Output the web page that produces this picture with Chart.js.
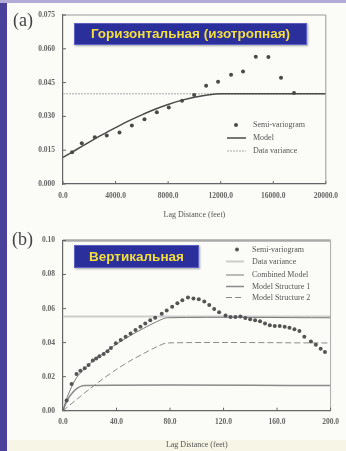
<!DOCTYPE html>
<html>
<head>
<meta charset="utf-8">
<script src="https://cdn.jsdelivr.net/npm/chart.js@4.4.0/dist/chart.umd.min.js"></script>
<style>
  html, body { margin: 0; padding: 0; }
  body { width: 346px; height: 451px; position: relative; overflow: hidden; background: #fbfbf7; }
  .borde-izq { position: absolute; left: 0; top: 0; width: 7px; height: 451px; background: #4b419b; }
  .borde-sup { position: absolute; left: 0; top: 0; width: 346px; height: 3px; background: #b3acd9; }
  .pie { position: absolute; left: 7px; top: 440px; width: 339px; height: 11px; background: #f7f5e6; }
  canvas { position: absolute; left: 0; }
  #graficaA { top: 0; }
  #graficaB { top: 228px; }
  .letra { position: absolute; font-family: "Liberation Serif", serif; font-size: 18px; color: #444; }
  .titulo {
    position: absolute; background: #2a2f9c; color: #f3df3c;
    font-family: "Liberation Sans", Arial, sans-serif; font-weight: bold; font-size: 13.5px;
    text-align: center; box-sizing: border-box; border: 1px solid #5c60c4;
    box-shadow: 1px 1px 2px rgba(0,0,0,0.35);
  }
</style>
</head>
<body>
<div class="borde-izq"></div>
<div class="borde-sup"></div>
<div class="pie"></div>
<canvas id="graficaA" width="346" height="228"></canvas>
<canvas id="graficaB" width="346" height="223"></canvas>
<div class="letra" style="left:13px; top:10px;">(a)</div>
<div class="letra" style="left:12px; top:229px;">(b)</div>
<div class="titulo" style="left:74px; top:23px; width:233px; height:22px; line-height:20px;">Горизонтальная (изотропная)</div>
<div class="titulo" style="left:74px; top:245px; width:125px; height:23px; line-height:21px;">Вертикальная</div>

<script>
// (a) horizontal semi-variogram
const lagA = [690, 1430, 2420, 3330, 4300, 5240, 6200, 7140, 8050, 9060, 9980, 10890, 11800, 12790, 13700, 14670, 15630, 16590, 17580];
const gammaA = [0.0141, 0.0181, 0.0207, 0.0215, 0.0229, 0.0260, 0.0287, 0.0318, 0.0339, 0.0370, 0.0395, 0.0436, 0.0454, 0.0485, 0.0499, 0.0565, 0.0564, 0.0472, 0.0404];
const modelLagA = [0, 1000, 2000, 3000, 4000, 5000, 6000, 7000, 8000, 9000, 10000, 11000, 12000, 20000];
const modelA = [0.0118, 0.0152, 0.0186, 0.0219, 0.0250, 0.0280, 0.0307, 0.0332, 0.0353, 0.0371, 0.0385, 0.0395, 0.0400, 0.0400];
const varLagA = [0, 20000];
const varianzaA = [0.0400, 0.0400];

// (b) vertical semi-variogram
const lagB = [2.7, 6.4, 10.1, 13.0, 16.2, 19.1, 22.3, 24.8, 27.2, 30.4, 33.3, 35.8, 39.5, 43.1, 46.8, 50.5, 54.2, 57.9, 61.5, 65.2, 68.9, 73.8, 77.5, 81.6, 85.5, 89.2, 93.4, 97.5, 101.5, 105.6, 109.3, 113.0, 116.7, 121.5, 125.2, 128.9, 132.6, 136.3, 139.9, 143.6, 147.3, 151.0, 154.6, 158.3, 162.0, 165.7, 169.3, 173.0, 176.7, 180.4, 185.3, 189.0, 192.6, 195.8];
const gammaB = [0.0060, 0.0157, 0.0215, 0.0234, 0.0249, 0.0268, 0.0295, 0.0307, 0.0320, 0.0333, 0.0349, 0.0368, 0.0397, 0.0416, 0.0435, 0.0454, 0.0474, 0.0493, 0.0512, 0.0531, 0.0546, 0.0569, 0.0588, 0.0611, 0.0632, 0.0649, 0.0665, 0.0659, 0.0655, 0.0642, 0.0621, 0.0598, 0.0579, 0.0560, 0.0550, 0.0550, 0.0554, 0.0545, 0.0537, 0.0531, 0.0525, 0.0512, 0.0502, 0.0497, 0.0497, 0.0493, 0.0487, 0.0479, 0.0468, 0.0435, 0.0406, 0.0387, 0.0364, 0.0345];
const varLagB = [0, 200];
const varianzaB = [0.0553, 0.0553];
const combLag = [0, 2, 5, 10, 16, 20, 30, 40, 50, 60, 70, 78, 200];
const combinado = [0, 0.0055, 0.0115, 0.0193, 0.0245, 0.0276, 0.0336, 0.0391, 0.0440, 0.0483, 0.0523, 0.0546, 0.0546];
const est1Lag = [0, 2, 5, 10, 16, 200];
const estructura1 = [0, 0.0040, 0.0085, 0.0128, 0.0148, 0.0148];
const est2Lag = [0, 10, 20, 30, 40, 50, 60, 70, 78, 200];
const estructura2 = [0, 0.0065, 0.0128, 0.0188, 0.0243, 0.0292, 0.0335, 0.0375, 0.0398, 0.0398];

// Une dos listas en puntos {x, y}
function puntos(xs, ys) {
  return xs.map((x, i) => ({ x: x, y: ys[i] }));
}

const fuente = "'Liberation Serif', 'DejaVu Serif', serif";

// Marco del área, ticks hacia adentro y leyenda dentro del gráfico
const marcoPlugin = {
  id: 'marco',
  afterDatasetsDraw(chart, args, opts) {
    const ctx = chart.ctx;
    const a = chart.chartArea;
    ctx.save();
    ctx.strokeStyle = opts.frameColor;
    ctx.lineWidth = opts.topWidth;
    ctx.beginPath();
    ctx.moveTo(a.left, a.top); ctx.lineTo(a.right, a.top);
    ctx.stroke();
    ctx.lineWidth = 1;
    ctx.beginPath();
    ctx.moveTo(a.right, a.top); ctx.lineTo(a.right, a.bottom);
    ctx.stroke();

    // ticks hacia adentro
    ctx.strokeStyle = '#666';
    ctx.lineWidth = 1;
    ctx.beginPath();
    chart.scales.x.ticks.forEach(t => {
      const px = chart.scales.x.getPixelForValue(t.value);
      ctx.moveTo(px, a.bottom); ctx.lineTo(px, a.bottom - 3);
    });
    chart.scales.y.ticks.forEach(t => {
      const py = chart.scales.y.getPixelForValue(t.value);
      ctx.moveTo(a.left, py); ctx.lineTo(a.left + 3, py);
    });
    ctx.stroke();

    // leyenda
    const lg = opts.legend;
    ctx.font = '8px ' + fuente;
    ctx.textBaseline = 'middle';
    chart.data.datasets.forEach((ds, i) => {
      const y = lg.ys[i];
      if (ds.showLine === false) {
        ctx.fillStyle = ds.pointBackgroundColor;
        ctx.beginPath();
        ctx.arc(lg.markX, y, ds.pointRadius, 0, Math.PI * 2);
        ctx.fill();
      } else {
        ctx.strokeStyle = ds.borderColor;
        ctx.lineWidth = ds.borderWidth;
        ctx.setLineDash(ds.borderDash || []);
        ctx.beginPath();
        ctx.moveTo(lg.x1, y); ctx.lineTo(lg.x2, y);
        ctx.stroke();
        ctx.setLineDash([]);
      }
      ctx.fillStyle = '#555';
      ctx.fillText(ds.label, lg.textX, y);
    });
    ctx.restore();
  }
};

function crearGrafica(canvasId, datasets, ejes, marco) {
  const ctx = document.getElementById(canvasId).getContext('2d');
  return new Chart(ctx, {
    type: 'scatter',
    data: { datasets: datasets },
    options: {
      responsive: false,
      animation: false,
      devicePixelRatio: 1,
      layout: { padding: { left: 0, right: 11, top: ejes.top, bottom: 0 } },
      plugins: {
        legend: { display: false },
        tooltip: { enabled: false },
        marco: marco
      },
      scales: {
        x: {
          type: 'linear', min: ejes.xMin, max: ejes.xMax,
          grid: { display: false, drawTicks: false, tickLength: 0 },
          border: { display: true, color: '#666', width: 1.2 },
          ticks: {
            stepSize: ejes.xStep, padding: ejes.xPad, color: '#666',
            font: { family: fuente, size: 7.5, weight: 'bold' },
            callback: v => v.toFixed(1)
          },
          title: {
            display: true, text: 'Lag Distance (feet)', color: '#555',
            font: { family: fuente, size: 8 },
            padding: { top: 0, bottom: ejes.titlePad }
          },
          afterFit: s => { s.height = ejes.xHeight; }
        },
        y: {
          type: 'linear', min: ejes.yMin, max: ejes.yMax,
          grid: { display: false, drawTicks: false, tickLength: 0 },
          border: { display: true, color: '#666', width: 1.2 },
          ticks: {
            stepSize: ejes.yStep, padding: 8, color: '#666',
            font: { family: fuente, size: 7.5, weight: 'bold' },
            callback: v => v.toFixed(ejes.yDec)
          },
          afterFit: s => { s.width = 63; }
        }
      }
    },
    plugins: [marcoPlugin]
  });
}

// Gráfica (a)
crearGrafica('graficaA', [
  {
    label: 'Semi-variogram', data: puntos(lagA, gammaA), showLine: false,
    pointStyle: 'circle', pointRadius: 2, pointBackgroundColor: '#4a4a4a', pointBorderWidth: 0, order: 0
  },
  {
    label: 'Model', data: puntos(modelLagA, modelA), showLine: true, tension: 0.3,
    borderColor: '#4a4a4a', borderWidth: 1.5, pointRadius: 0, order: 1
  },
  {
    label: 'Data variance', data: puntos(varLagA, varianzaA), showLine: true,
    borderColor: '#c4c4c4', borderWidth: 1.5, borderDash: [2, 1], pointRadius: 0, order: 2
  }
], {
  top: 15, xMin: 0, xMax: 20000, xStep: 4000, xPad: 8, xHeight: 44, titlePad: 8,
  yMin: 0, yMax: 0.075, yStep: 0.015, yDec: 3
}, {
  frameColor: '#999', topWidth: 1,
  legend: { ys: [125, 138, 151], markX: 236, x1: 227, x2: 246, textX: 253 }
});

// Gráfica (b)
crearGrafica('graficaB', [
  {
    label: 'Semi-variogram', data: puntos(lagB, gammaB), showLine: false,
    pointStyle: 'circle', pointRadius: 2, pointBackgroundColor: '#555', pointBorderWidth: 0, order: 0
  },
  {
    label: 'Data variance', data: puntos(varLagB, varianzaB), showLine: true,
    borderColor: '#cdcdcd', borderWidth: 2, pointRadius: 0, order: 4
  },
  {
    label: 'Combined Model', data: puntos(combLag, combinado), showLine: true, tension: 0.3,
    borderColor: '#7a7a7a', borderWidth: 1, pointRadius: 0, order: 1
  },
  {
    label: 'Model Structure 1', data: puntos(est1Lag, estructura1), showLine: true, tension: 0.3,
    borderColor: '#8a8a8a', borderWidth: 1.5, pointRadius: 0, order: 2
  },
  {
    label: 'Model Structure 2', data: puntos(est2Lag, estructura2), showLine: true, tension: 0.3,
    borderColor: '#8a8a8a', borderWidth: 1, borderDash: [6, 3], pointRadius: 0, order: 3
  }
], {
  top: 8.7, xMin: 0, xMax: 200, xStep: 40, xPad: 7, xHeight: 40.3, titlePad: 1,
  yMin: 0, yMax: 0.10, yStep: 0.02, yDec: 2
}, {
  frameColor: '#aaa', topWidth: 2.5,
  legend: { ys: [21.5, 33.5, 47, 58.5, 69.5], markX: 237, x1: 226, x2: 244, textX: 252 }
});
</script>
</body>
</html>
